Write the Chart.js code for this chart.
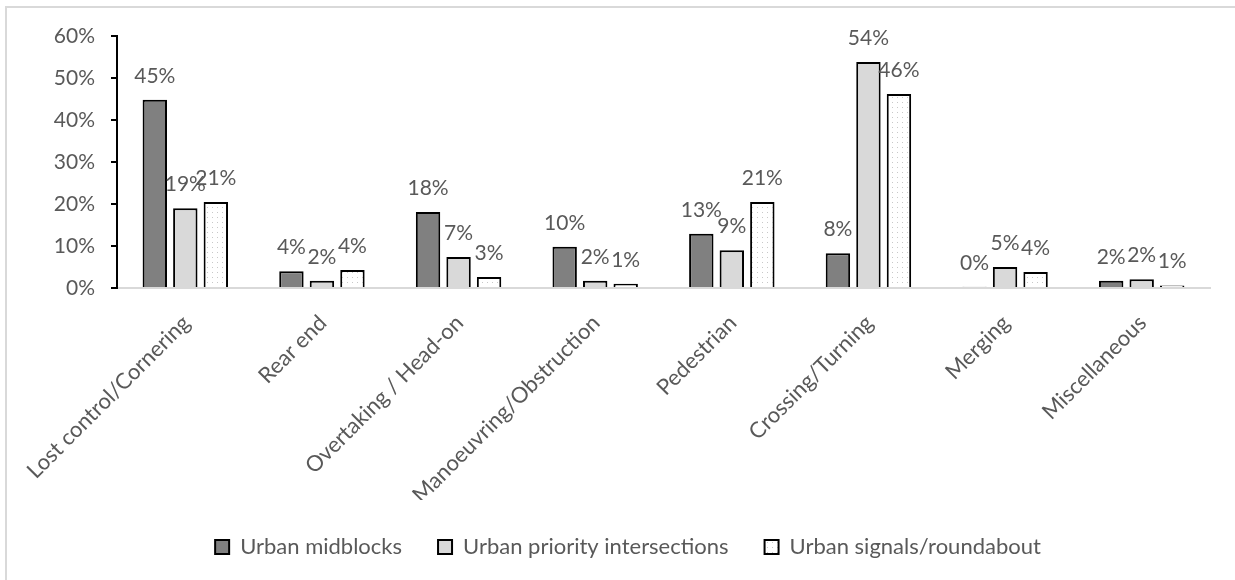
<!DOCTYPE html>
<html>
<head>
<meta charset="utf-8">
<script src="https://cdn.jsdelivr.net/npm/chart.js@4.4.1/dist/chart.umd.min.js"></script>
<style>
  body { margin: 0; background: #fff; }
  #wrap { width: 1235px; height: 580px; }
</style>
</head>
<body>
<div id="wrap"><canvas id="crashes" width="1235" height="580"></canvas></div>
<script>
const categories = ['Lost control/Cornering', 'Rear end', 'Overtaking / Head-on', 'Manoeuvring/Obstruction',
  'Pedestrian', 'Crossing/Turning', 'Merging', 'Miscellaneous'];
const midblocks = [44.8, 4.0, 18.1, 9.8, 12.9, 8.3, 0.3, 1.7];
const priorityIntersections = [19.0, 1.7, 7.4, 1.7, 9.0, 53.8, 5.0, 2.1];
const signalsRoundabout = [20.5, 4.3, 2.6, 1.0, 20.5, 46.2, 3.8, 0.6];
const yTicks = [0, 10, 20, 30, 40, 50, 60];

const FONT = "Lato, 'Liberation Sans', sans-serif";
const TEXT = '#595959';

// light dotted fill for the third series
function dotPattern() {
  const c = document.createElement('canvas');
  c.width = 5; c.height = 5;
  const g = c.getContext('2d');
  g.fillStyle = '#ffffff';
  g.fillRect(0, 0, 5, 5);
  g.fillStyle = '#c8c8c8';
  g.fillRect(2, 2, 1, 1);
  return g.createPattern(c, 'repeat');
}

const frame = {
  id: 'frame',
  beforeDraw(chart) {
    const ctx = chart.ctx;
    ctx.save();
    ctx.strokeStyle = '#d9d9d9';
    ctx.lineWidth = 2;
    ctx.strokeRect(6, 7, 1240, 600);
    ctx.restore();
  }
};

const valueLabels = {
  id: 'valueLabels',
  afterDatasetsDraw(chart) {
    const ctx = chart.ctx;
    ctx.save();
    ctx.font = '21px ' + FONT;
    ctx.fillStyle = TEXT;
    ctx.textAlign = 'center';
    ctx.textBaseline = 'alphabetic';
    chart.data.datasets.forEach((ds, i) => {
      chart.getDatasetMeta(i).data.forEach((bar, j) => {
        ctx.fillText(Math.round(ds.data[j]) + '%', bar.x, bar.y - 17);
      });
    });
    ctx.restore();
  }
};

const ctx = document.getElementById('crashes').getContext('2d');

const chart = new Chart(ctx, {
  type: 'bar',
  data: {
    labels: categories,
    datasets: [
      {
        label: 'Urban midblocks',
        data: midblocks,
        backgroundColor: '#808080',
        borderColor: '#000',
        borderWidth: 2,
      },
      {
        label: 'Urban priority intersections',
        data: priorityIntersections,
        backgroundColor: '#d9d9d9',
        borderColor: '#000',
        borderWidth: 2,
      },
      {
        label: 'Urban signals/roundabout',
        data: signalsRoundabout,
        backgroundColor: dotPattern(),
        borderColor: '#000',
        borderWidth: 2,
      }
    ]
  },
  options: {
    responsive: false,
    animation: false,
    categoryPercentage: 0.67,
    barPercentage: 0.8,
    layout: { padding: { left: 46, right: 25, top: 36, bottom: 12 } },
    scales: {
      x: {
        grid: { display: false },
        border: { color: '#d9d9d9', width: 2 },
        ticks: {
          color: TEXT,
          font: { family: FONT, size: 22 },
          minRotation: 45,
          maxRotation: 45,
          autoSkip: false,
          padding: 14,
          labelOffset: 1,
        },
        afterFit(scale) { scale.height = 212; }
      },
      y: {
        min: 0,
        max: 60,
        afterBuildTicks(scale) { scale.ticks = yTicks.map(v => ({ value: v })); },
        grid: { drawOnChartArea: false, drawTicks: true, tickLength: 6, color: '#000', lineWidth: 2 },
        border: { color: '#000', width: 2 },
        ticks: {
          color: TEXT,
          font: { family: FONT, size: 21 },
          padding: 16,
          callback: v => v + '%'
        },
        afterFit(scale) { scale.width = 71; }
      }
    },
    plugins: {
      legend: {
        display: true,
        position: 'bottom',
        labels: {
          color: TEXT,
          font: { family: FONT, size: 22 },
          boxWidth: 14,
          boxHeight: 14,
          padding: 36,
        }
      },
      tooltip: { enabled: false }
    }
  },
  plugins: [frame, valueLabels]
});
</script>
</body>
</html>
